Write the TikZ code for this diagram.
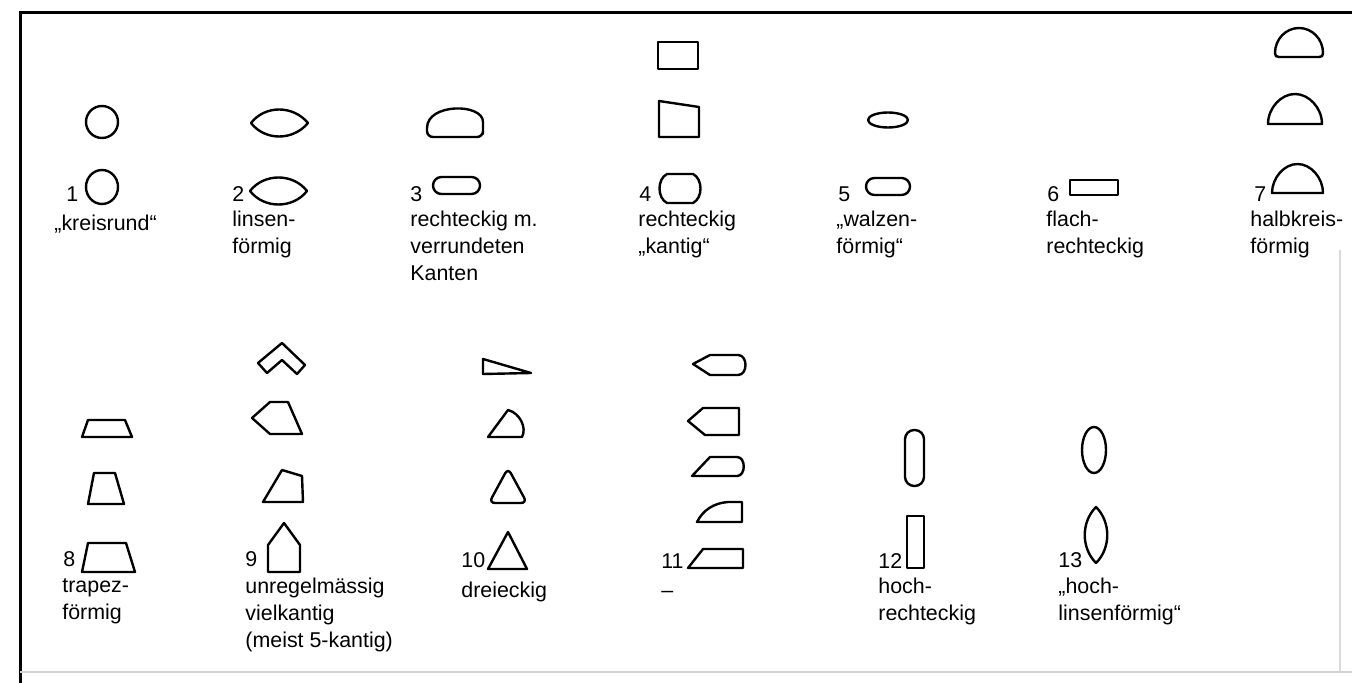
\documentclass[tikz,border=0pt]{standalone}
\usepackage{fontspec}
\setmainfont{Liberation Sans}
\begin{document}
\begin{tikzpicture}[x=0.5pt,y=-0.5pt,
  shp/.style={line width=1.2pt,line join=round},
  lbl/.style={anchor=north west,inner sep=0pt,align=left,font=\fontsize{10.7}{13.5}\selectfont,execute at begin node=\strut},
  num/.style={anchor=base west,inner sep=0pt,font=\fontsize{10.7}{13.5}\selectfont}]
\useasboundingbox (0,0) rectangle (1352,683);
\fill[white] (0,0) rectangle (1352,683);
% frame
\draw[line width=1.5pt] (20,683) -- (20,13) -- (1352,13);
\draw[gray!35,line width=0.6pt] (20,672) -- (1352,672);
\draw[gray!30,line width=0.6pt] (1340,250) -- (1340,672);

% ---- 1
\draw[shp] (102,122) circle [radius=16];
\draw[shp] (102,187) ellipse [x radius=16,y radius=17];
\node[num] (n1) at (66,202) {1};
\node[lbl] (t1) at (54,211) {„kreisrund“};
% ---- 2
\draw[shp] (251,123) .. controls (265,105) and (293,105) .. (308,123) .. controls (293,141) and (265,141) .. cycle;
\draw[shp] (250,191) .. controls (264,173) and (293,173) .. (307,191) .. controls (293,209) and (264,209) .. cycle;
\node[num] (n2) at (232,202) {2};
\node[lbl] (t2) at (232,211) {linsen-\\förmig};
% ---- 3
\draw[shp,rounded corners=3pt] (427,128) -- (427,137) -- (483,137) -- (483,128) [sharp corners] .. controls (483,103) and (427,103) .. (427,128) -- cycle;
\draw[shp,rounded corners=4.2pt] (433,177) rectangle (480,194);
\node[num] (n3) at (410,202) {3};
\node[lbl] (t3) at (410,211) {rechteckig m.\\verrundeten\\Kanten};
% ---- 4
\draw[shp] (658,42) rectangle (698,69);
\draw[shp] (659,101) -- (699,107) -- (699,137) -- (659,137) -- cycle;
\draw[shp] (667,174) -- (693,174) .. controls (703,179) and (703,198) .. (693,203) -- (667,203) .. controls (657,198) and (657,179) .. cycle;
\node[num] (n4) at (639,202) {4};
\node[lbl] (t4) at (638,211) {rechteckig\\„kantig“};
% ---- 5
\draw[shp] (888,120) ellipse [x radius=20,y radius=7.5];
\draw[shp,rounded corners=4.2pt] (866,178) rectangle (910,195);
\node[num] (n5) at (838,202) {5};
\node[lbl] (t5) at (836,211) {„walzen-\\förmig“};
% ---- 6
\draw[shp] (1070,180) rectangle (1118,195);
\node[num] (n6) at (1047,202) {6};
\node[lbl] (t6) at (1046,211) {flach-\\rechteckig};
% ---- 7
\draw[shp] (1279,57) -- (1319,57) .. controls (1322,57) and (1323,56) .. (1323,53) .. controls (1323,39) and (1312,28) .. (1299,28) .. controls (1286,28) and (1275,39) .. (1275,53) .. controls (1275,56) and (1276,57) .. cycle;
\draw[shp] (1268,124) -- (1322,124) .. controls (1322,108) and (1309,94) .. (1295,94) .. controls (1281,94) and (1268,108) .. cycle;
\draw[shp] (1272,193) -- (1323,193) .. controls (1323,178) and (1311,164) .. (1297.5,164) .. controls (1284,164) and (1272,178) .. cycle;
\node[num] (n7) at (1254,202) {7};
\node[lbl] (t7) at (1250,211) {halbkreis-\\förmig};

% ---- 8
\draw[shp] (88,420) -- (125,420) -- (132,437) -- (82,437) -- cycle;
\draw[shp] (94,473) -- (115,473) -- (124,504) -- (88,504) -- cycle;
\draw[shp] (88,543) -- (126,543) -- (135,572) -- (82,572) -- cycle;
\node[num] (n8) at (63,566) {8};
\node[lbl] (t8) at (62,578) {trapez-\\förmig};
% ---- 9
\draw[shp] (258,363) -- (282,343) -- (305,365) -- (297,374) -- (282,360) -- (267,373) -- cycle;
\draw[shp] (252,418) -- (270,402) -- (288,402) -- (302,434) -- (270,434) -- cycle;
\draw[shp] (263,502) -- (282,470) -- (302,476) -- (303,502) -- cycle;
\draw[shp] (284,523) -- (300,545) -- (300,572) -- (268,572) -- (268,545) -- cycle;
\node[num] (n9) at (245,566) {9};
\node[lbl] (t9) at (245,578) {unregelmässig\\vielkantig\\(meist 5-kantig)};
% ---- 10
\draw[shp] (483,359) -- (483,374) -- (531,373) -- cycle;
\draw[shp] (488,437) -- (508,410) .. controls (520,413) and (527,428) .. (522,437) -- cycle;
\draw[shp,rounded corners=3pt] (508,468) -- (527,503) -- (489,503) -- cycle;
\draw[shp] (508,532) -- (527,569) -- (488,569) -- cycle;
\node[num] (n10) at (461,567) {10};
\node[lbl] (t10) at (461,578) {dreieckig};
% ---- 11
\draw[shp] (693,364) -- (710,355) -- (738,355) .. controls (748,355) and (748,375) .. (738,375) -- (710,375) -- cycle;
\draw[shp] (688,421) -- (703,408) -- (739,408) -- (739,435) -- (705,435) -- cycle;
\draw[shp] (692,476) -- (710,457) -- (737,457) .. controls (746,457) and (746,476) .. (737,476) -- cycle;
\draw[shp] (697,522) .. controls (703,510) and (714,503) .. (728,502) -- (742,502) -- (742,522) -- cycle;
\draw[shp] (688,568) -- (703,549) -- (743,549) -- (743,568) -- cycle;
\node[num] (n11) at (661,568) {11};
\node[lbl] (t11) at (661,578) {–};
% ---- 12
\draw[shp,rounded corners=4.6pt] (905,430) rectangle (924,486);
\draw[shp] (907,516) rectangle (924,568);
\node[num] (n12) at (878,568) {12};
\node[lbl] (t12) at (878,578) {hoch-\\rechteckig};
% ---- 13
\draw[shp] (1094,450) ellipse [x radius=12,y radius=23];
\draw[shp] (1096,507) .. controls (1111,522) and (1111,548) .. (1096,563) .. controls (1081,548) and (1081,522) .. cycle;
\node[num] (n13) at (1058,567) {13};
\node[lbl] (t13) at (1058,578) {„hoch-\\linsenförmig“};
\end{tikzpicture}
\end{document}
